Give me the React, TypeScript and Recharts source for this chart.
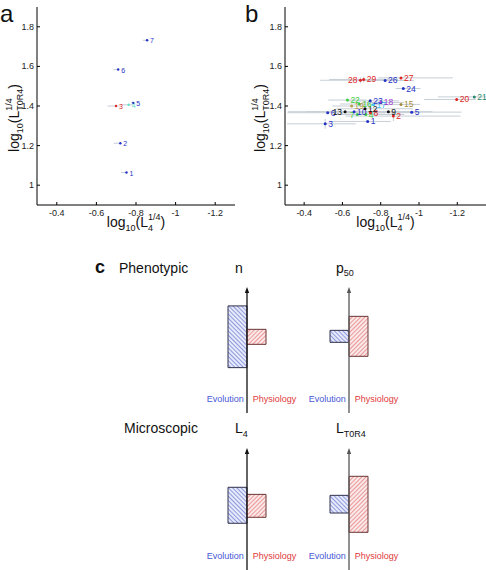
import { ScatterChart, Scatter, XAxis, YAxis, ErrorBar, BarChart, Bar, Cell, ReferenceLine } from "recharts";

const FONT = "'Liberation Sans', Arial, Helvetica, sans-serif";

// panel a: per-animal points (x = log10 L4^1/4, y = log10 LT0R4^1/4)
const idsA = ["1", "2", "3", "4", "5", "6", "7"];
const xA = [-0.752, -0.721, -0.699, -0.763, -0.786, -0.71, -0.856];
const yA = [1.064, 1.212, 1.4, 1.406, 1.416, 1.584, 1.732];
const groupA = ["B", "B", "R", "A", "B", "B", "B"];
const errLoA = [0.005, 0.003, 0.017, 0.024, 0.005, 0.005, 0.008];
const errHiA = [0.028, 0.034, 0.043, 0.042, 0.01, 0.024, 0.022];

// panel b
const idsB = ["1", "2", "3", "4", "5", "6", "7", "8", "9", "10", "12", "13", "15", "16", "17", "18", "19", "20", "21", "22", "23", "24", "26", "27", "28", "29"];
const xB = [-0.732, -0.866, -0.51, -0.722, -0.962, -0.523, -0.678, -0.746, -0.84, -0.661, -0.718, -0.614, -0.906, -0.688, -0.762, -0.8, -0.648, -1.197, -1.289, -0.626, -0.745, -0.918, -0.823, -0.906, -0.694, -0.711];
const yB = [1.322, 1.349, 1.31, 1.357, 1.369, 1.366, 1.357, 1.366, 1.371, 1.371, 1.386, 1.371, 1.408, 1.41, 1.406, 1.418, 1.4, 1.433, 1.446, 1.43, 1.426, 1.488, 1.529, 1.542, 1.53, 1.534];
const groupB = ["B", "R", "B", "G", "B", "B", "G", "R", "K", "B", "K", "K", "O", "G", "C", "P", "T", "R", "E", "G", "B", "B", "B", "R", "R", "R"];
const errLoB = [0.12, 0.35, 0.16, 0.2, 0.26, 0.3, 0.2, 0.25, 0.23, 0.3, 0.25, 0.28, 0.1, 0.12, 0.08, 0.12, 0.1, 0.1, 0.06, 0.1, 0.15, 0.09, 0.15, 0.27, 0.146, 0.18];
const errHiB = [0.2, 0.25, 0.2, 0.15, 0.2, 0.21, 0.12, 0.15, 0.2, 0.25, 0.15, 0.3, 0.1, 0.1, 0.08, 0.1, 0.1, 0.17, 0.19, 0.1, 0.12, 0.04, 0.14, 0.12, 0.21, 0.18];
const errYB = [0, 0.025, 0.025, 0, 0, 0, 0, 0, 0, 0, 0, 0, 0, 0, 0, 0, 0, 0, 0, 0, 0, 0, 0, 0, 0.015, 0.015];
const leftLabels = ["7", "13", "28"];

const xTicks = [-0.4, -0.6, -0.8, -1, -1.2];
const yTicks = [1, 1.2, 1.4, 1.6, 1.8];

// panel c: ranges for evolution vs physiology
const cCategories = ["Evolution", "Physiology"];
const nRange = [[3.6, 8.5], [5.45, 6.64]];
const p50Range = [[5.61, 6.56], [4.5, 7.67]];
const l4Range = [[3.83, 6.78], [4.32, 6.2]];
const lt0r4Range = [[4.67, 6.12], [3.09, 7.68]];

const palette: Record<string, string> = {
  B: "#2434c6",
  R: "#e02424",
  G: "#3ccf3c",
  K: "#111111",
  C: "#3cc0ee",
  P: "#a23ad0",
  O: "#a48c3e",
  T: "#b89a4e",
  E: "#2a8a6c",
  A: "#5fe0c4",
};

function points(ids: string[], xs: number[], ys: number[], groups: string[], lo: number[], hi: number[], ey?: number[]) {
  return ids.map((id, i) => ({ id, x: xs[i], y: ys[i], g: groups[i], ex: [lo[i], hi[i]], ey: ey ? ey[i] : 0 }));
}

const YTick = (p: any) => (
  <g>
    <line x1={p.x + 3} x2={p.x + 6} y1={p.y} y2={p.y} stroke="#000" />
    <text x={p.x} y={p.y} dy={3} textAnchor="end" fontSize={9} fill="#222" fontFamily={FONT}>{p.payload.value}</text>
  </g>
);

const XTick = (p: any) => (
  <g>
    <line x1={p.x} x2={p.x} y1={p.y} y2={p.y - 3} stroke="#000" />
    <text x={p.x} y={p.y + 11} textAnchor="middle" fontSize={9} fill="#222" fontFamily={FONT}>{p.payload.value}</text>
  </g>
);

const XLabel = (p: any) => {
  const vb = p.viewBox;
  return (
    <text x={vb.x + vb.width / 2} y={vb.y + 22} textAnchor="middle" fontSize={14} fill="#111" fontFamily={FONT}>
      log<tspan fontSize={9} dy={4}>10</tspan>
      <tspan dy={-4}>(L</tspan>
      <tspan fontSize={9} dy={-7}>1/4</tspan>
      <tspan fontSize={9} dx={-12.5} dy={11}>4</tspan>
      <tspan dx={7.5} dy={-4}>)</tspan>
    </text>
  );
};

const makeYLabel = (offset: number) => (p: any) => {
  const vb = p.viewBox;
  const cx = vb.x + offset;
  const cy = vb.y + vb.height / 2 + 12;
  return (
    <g transform={`translate(${cx},${cy}) rotate(-90)`}>
      <text x={0} y={0} textAnchor="middle" fontSize={14} fill="#111" fontFamily={FONT}>
        log<tspan fontSize={9} dy={4}>10</tspan>
        <tspan dy={-4}>(L</tspan>
        <tspan fontSize={9} dy={-7}>1/4</tspan>
        <tspan fontSize={9} dx={-12.5} dy={11}>T0R4</tspan>
        <tspan dy={-4}>)</tspan>
      </text>
    </g>
  );
};

const makeDot = (r: number, fs: number) => (p: any) => {
  const col = palette[p.payload.g];
  const left = leftLabels.includes(p.payload.id) && fs > 8;
  return (
    <g>
      <circle cx={p.cx} cy={p.cy} r={r} fill={col} />
      <text x={left ? p.cx - 3 : p.cx + 3} y={p.cy + 3} textAnchor={left ? "end" : "start"} fontSize={fs} fill={col} fontFamily={FONT}>
        {p.payload.id}
      </text>
    </g>
  );
};

function ScatterPanel({ data, width, yWidth, yLabelOffset, r, fs }: any) {
  return (
    <ScatterChart width={width} height={240} margin={{ top: 7, right: width === 240 ? 5 : 0, bottom: 0, left: 0 }}>
      <XAxis
        type="number"
        dataKey="x"
        domain={width === 240 ? [-1.3, -0.3] : [-1.35, -0.3]}
        reversed
        allowDataOverflow
        ticks={xTicks}
        height={35}
        tickSize={0}
        tickMargin={0}
        tick={XTick}
        stroke="#000"
        label={{ content: XLabel }}
      />
      <YAxis
        type="number"
        dataKey="y"
        domain={[0.9, 1.9]}
        allowDataOverflow
        ticks={yTicks}
        width={yWidth}
        tickSize={0}
        tickMargin={3}
        tick={YTick}
        stroke="#000"
        label={{ content: makeYLabel(yLabelOffset) }}
      />
      <Scatter data={data} isAnimationActive={false} shape={makeDot(r, fs)}>
        <ErrorBar dataKey="ex" direction="x" width={0} stroke="#c6ced6" strokeWidth={1} />
        <ErrorBar dataKey="ey" direction="y" width={0} stroke="#c6ced6" strokeWidth={1} />
      </Scatter>
    </ScatterChart>
  );
}

const CatTick = (p: any) => {
  const ev = p.payload.value === "Evolution";
  return (
    <text x={ev ? p.x + 6.2 : p.x - 3.8} y={p.y - 11} textAnchor={ev ? "end" : "start"} fontSize={9} fill={ev ? "#4658d6" : "#e03a3a"} fontFamily={FONT}>
      {p.payload.value}
    </text>
  );
};

const Arrow = (p: any) => {
  const x = p.x1;
  const top = Math.min(p.y1, p.y2);
  const bot = Math.max(p.y1, p.y2);
  return (
    <g>
      <line x1={x} x2={x} y1={top + 4} y2={bot} stroke={p.stroke} strokeWidth={1.3} />
      <path d={`M${x},${top} L${x - 2.2},${top + 6} L${x + 2.2},${top + 6} Z`} fill={p.stroke} />
    </g>
  );
};

function Mini({ ranges, id, height, axisColor }: any) {
  const data = cCategories.map((name, i) => ({ name, range: ranges[i] }));
  return (
    <BarChart width={120} height={height} data={data} margin={{ top: 5, right: 41, bottom: 0, left: 41 }} barCategoryGap={0} barGap={0}>
      <defs>
        <pattern id={`${id}-0`} width={3} height={3} patternUnits="userSpaceOnUse" patternTransform="rotate(-45)">
          <rect width={3} height={3} fill="#e6eafa" />
          <line x1={0} y1={0} x2={0} y2={3} stroke="#5466cc" strokeWidth={1.2} />
        </pattern>
        <pattern id={`${id}-1`} width={3} height={3} patternUnits="userSpaceOnUse" patternTransform="rotate(45)">
          <rect width={3} height={3} fill="#fbe8e8" />
          <line x1={0} y1={0} x2={0} y2={3} stroke="#e06464" strokeWidth={1.2} />
        </pattern>
      </defs>
      <XAxis dataKey="name" height={1} axisLine={false} tickLine={false} tickSize={0} tickMargin={0} interval={0} tick={CatTick} />
      <YAxis hide type="number" domain={[0, 10]} allowDataOverflow />
      <Bar dataKey="range" isAnimationActive={false}>
        {data.map((d, i) => (
          <Cell key={d.name} fill={`url(#${id}-${i})`} stroke={i === 0 ? "#30304c" : "#6a3434"} strokeWidth={1} />
        ))}
      </Bar>
      <ReferenceLine x="Physiology" position="start" stroke={axisColor} shape={Arrow} />
    </BarChart>
  );
}

export default function App() {
  const dataA = points(idsA, xA, yA, groupA, errLoA, errHiA);
  const dataB = points(idsB, xB, yB, groupB, errLoB, errHiB, errYB);
  const abs = (left: number, top: number) => ({ position: "absolute" as const, left, top });

  return (
    <div style={{ position: "absolute", left: 0, top: 0, width: 486, height: 570, overflow: "hidden", background: "#fff", fontFamily: FONT }}>
      <div style={abs(0, 0)}>
        <ScatterPanel data={dataA} width={240} yWidth={37} yLabelOffset={19} r={1.2} fs={7} />
      </div>
      <div style={abs(240, 0)}>
        <ScatterPanel data={dataB} width={246} yWidth={45} yLabelOffset={25} r={1.5} fs={8.5} />
      </div>

      <div style={abs(187, 282)}>
        <Mini ranges={nRange} id="hn" height={132} axisColor="#111" />
      </div>
      <div style={abs(289, 282)}>
        <Mini ranges={p50Range} id="hp" height={132} axisColor="#555" />
      </div>
      <div style={abs(187, 443)}>
        <Mini ranges={l4Range} id="hl" height={128} axisColor="#111" />
      </div>
      <div style={abs(289, 443)}>
        <Mini ranges={lt0r4Range} id="ht" height={128} axisColor="#555" />
      </div>

      <svg width={486} height={570} style={{ position: "absolute", left: 0, top: 0, pointerEvents: "none" }}>
        <g fontFamily={FONT} fill="#111">
          <text x={0} y={22} fontSize={24}>a</text>
          <text x={245} y={22} fontSize={24}>b</text>
          <text x={95} y={273} fontSize={18} fontWeight="bold">c</text>
          <text x={119} y={273} fontSize={14}>Phenotypic</text>
          <text x={235} y={273} fontSize={14}>n</text>
          <text x={336} y={273} fontSize={14}>p<tspan fontSize={9} dy={3}>50</tspan></text>
          <text x={124} y={433} fontSize={14}>Microscopic</text>
          <text x={235} y={433} fontSize={14}>L<tspan fontSize={9} dy={4}>4</tspan></text>
          <text x={336} y={433} fontSize={14}>L<tspan fontSize={9} dy={4}>T0R4</tspan></text>
        </g>
      </svg>
    </div>
  );
}
